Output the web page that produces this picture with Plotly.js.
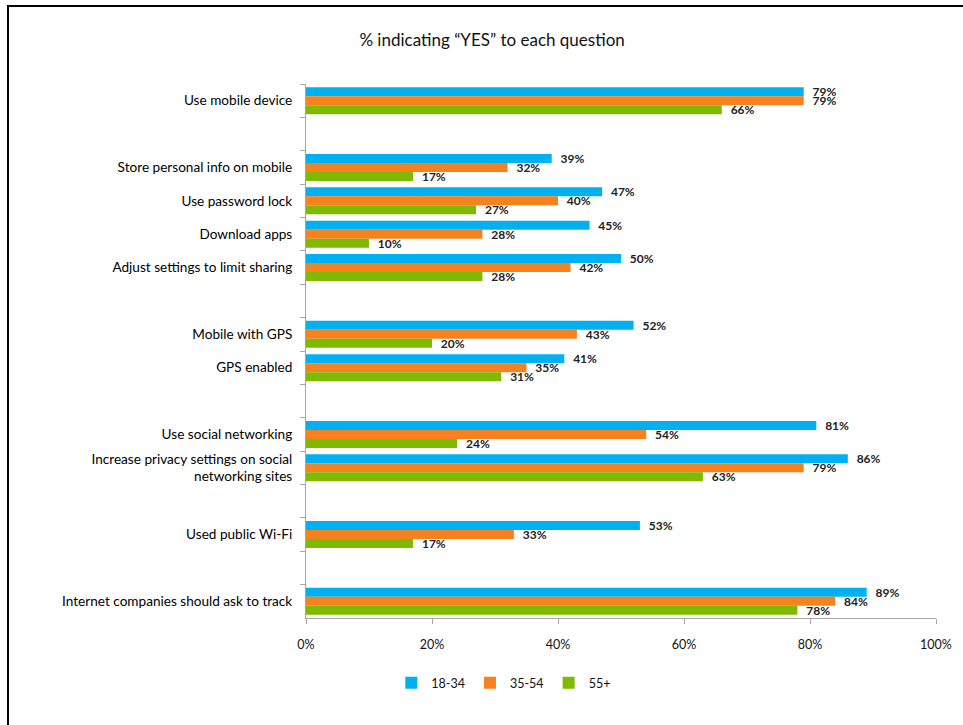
<!DOCTYPE html>
<html>
<head>
<meta charset="utf-8">
<script src="https://cdn.plot.ly/plotly-3.0.1.min.js"></script>
<style>
  html, body { margin: 0; padding: 0; background: #fff; }
  #frame { position: absolute; left: 7px; top: 5px; width: 960px; height: 725px; border-left: 2px solid #000; border-top: 2px solid #000; pointer-events: none; }
  #chart { width: 963px; height: 725px; }
</style>
</head>
<body>
<div id="chart"></div>
<div id="frame"></div>
<script>
const categories = [
  "Use mobile device",
  " ",
  "Store personal info on mobile",
  "Use password lock",
  "Download apps",
  "Adjust settings to limit sharing",
  "  ",
  "Mobile with GPS",
  "GPS enabled",
  "   ",
  "Use social networking",
  "Increase privacy settings on social<br>networking sites",
  "    ",
  "Used public Wi-Fi",
  "     ",
  "Internet companies should ask to track"
];
const age18_34 = [0.79, null, 0.39, 0.47, 0.45, 0.50, null, 0.52, 0.41, null, 0.81, 0.86, null, 0.53, null, 0.89];
const age35_54 = [0.79, null, 0.32, 0.40, 0.28, 0.42, null, 0.43, 0.35, null, 0.54, 0.79, null, 0.33, null, 0.84];
const age55plus = [0.66, null, 0.17, 0.27, 0.10, 0.28, null, 0.20, 0.31, null, 0.24, 0.63, null, 0.17, null, 0.78];
const seriesNames = ["18-34", "35-54", "55+"];
const seriesColors = ["#00B0F0", "#F5821F", "#7FBA00"];
const xTickVals = [0, 0.2, 0.4, 0.6, 0.8, 1.0];
const xTickText = ["0%", "20%", "40%", "60%", "80%", "100%"];

const FONT = "Lato, 'Open Sans', sans-serif";
const seriesData = [age18_34, age35_54, age55plus];
const traces = seriesData.map((vals, i) => ({
  type: "bar",
  orientation: "h",
  name: seriesNames[i],
  y: categories,
  x: vals,
  marker: { color: seriesColors[i] },
  text: vals.map(v => v == null ? "" : "  " + Math.round(v * 100) + "%"),
  textposition: "outside",
  constraintext: "none",
  cliponaxis: false,
  textfont: { family: FONT, size: 12, color: "#222", weight: "bold" },
  hoverinfo: "skip"
}));

const layout = {
  width: 963,
  height: 725,
  paper_bgcolor: "#fff",
  plot_bgcolor: "#fff",
  margin: { l: 306, r: 27, t: 84, b: 107 },
  barmode: "group",
  bargap: 0.19,
  bargroupgap: 0,
  showlegend: true,
  title: {
    text: "% indicating “YES” to each question",
    font: { family: FONT, size: 17, color: "#111" },
    x: 0.511, xref: "container", xanchor: "center",
    y: 0.945, yref: "container", yanchor: "middle"
  },
  xaxis: {
    range: [0, 1],
    tickvals: xTickVals,
    ticktext: xTickText,
    showgrid: false,
    zeroline: false,
    showline: true,
    linecolor: "#A6A6A6",
    linewidth: 1,
    ticks: "outside",
    ticklen: 5,
    tickcolor: "#A6A6A6",
    tickfont: { family: FONT, size: 12.5, color: "#111" },
    ticklabelstandoff: 10,
    fixedrange: true
  },
  yaxis: {
    type: "category",
    autorange: "reversed",
    showgrid: false,
    zeroline: false,
    showline: true,
    linecolor: "#A6A6A6",
    linewidth: 1,
    ticks: "outside",
    tickson: "boundaries",
    ticklen: 5,
    tickcolor: "#A6A6A6",
    tickfont: { family: FONT, size: 13.6, color: "#000" },
    ticklabelstandoff: 10,
    fixedrange: true
  },
  legend: {
    orientation: "h",
    x: 0.314, xanchor: "center",
    y: -0.122, yanchor: "middle",
    font: { family: FONT, size: 12.5, color: "#111" },
    traceorder: "normal",
    itemwidth: 30
  }
};

Plotly.newPlot("chart", traces, layout, { displayModeBar: false, staticPlot: true });
</script>
</body>
</html>
